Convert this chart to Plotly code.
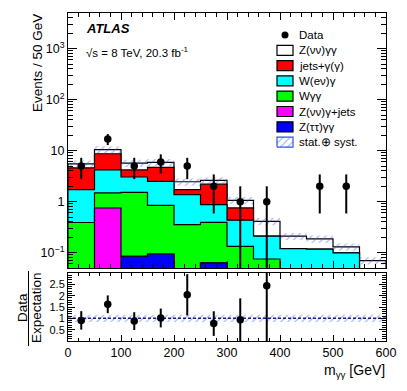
"""ATLAS-style stacked m_gg distribution with data/expectation ratio panel."""

import numpy as np
import plotly.graph_objects as go

# ---- data ----
edges = [0, 50, 100, 150, 200, 250, 300, 350, 400, 450, 500, 550, 600]

# stack components, bottom -> top
z_tautau_gg = [0, 0, 0.085, 0.094, 0, 0.063, 0, 0, 0, 0, 0, 0]
z_nunu_g_jets = [0, 0.75, 0, 0, 0, 0, 0, 0, 0, 0, 0, 0]
w_gg = [0.39, 0.73, 1.43, 0.75, 0.354, 0.33, 0.133, 0.075, 0, 0, 0, 0]
w_enu_g = [1.33, 2.72, 1.53, 1.66, 1.02, 0.48, 0.30, 0.135, 0.12, 0.117, 0.099, 0]
jets_g = [2.88, 4.5, 1.15, 2.2, 0.35, 1.33, 0.32, 0, 0, 0, 0, 0]
z_nunu_gg = [0.9, 1.8, 1.5, 1.2, 0.73, 0.4, 0.31, 0.2, 0.09, 0.069, 0.031, 0.07]

data = [5, 17, 5, 6, 5, 2, 1, 1, 0, 2, 2, 0]
unc_rel = [0.16, 0.16, 0.16, 0.16, 0.16, 0.16, 0.16, 0.16, 0.16, 0.16, 0.16, 0.16]

stack = [
    ("Z(ττ)γγ", z_tautau_gg, "#0000ff"),
    ("Z(νν)γ+jets", z_nunu_g_jets, "#ff00ff"),
    ("Wγγ", w_gg, "#00ff00"),
    ("W(eν)γ", w_enu_g, "#00ffff"),
    ("jets+γ(γ)", jets_g, "#ff0000"),
    ("Z(νν)γγ", z_nunu_gg, "#ffffff"),
]
legend_order = ["Z(νν)γγ", "jets+γ(γ)", "W(eν)γ", "Wγγ", "Z(νν)γ+jets", "Z(ττ)γγ"]

FONT = "Liberation Sans, Arial, Helvetica, sans-serif"
HATCH = "rgba(60,95,235,0.95)"

# ---- geometry (pixels) ----
W, H = 407, 391
L, R, T, B = 68, 386, 13, 341
MAIN_BOT, RATIO_TOP = 268, 273
YLO, YHI = np.log10(0.05), np.log10(5000)


def px(x):
    return (x - L) / (R - L)


def py(y):
    return (B - y) / (B - T)


def data_x(x):
    return (x - L) / (R - L) * 600


def data_y(y):
    return 10 ** (YLO + (MAIN_BOT - y) / (MAIN_BOT - T) * (YHI - YLO))


def steps(vals, base=1e-4):
    xs, ys = [edges[0]], [base]
    for i, v in enumerate(vals):
        v = v if v > 0 else base
        xs += [edges[i], edges[i + 1]]
        ys += [v, v]
    xs.append(edges[-1])
    ys.append(base)
    return xs, ys


def band(lo, hi):
    xs, ys = [], []
    for i in range(len(lo)):
        xs += [edges[i], edges[i + 1]]
        ys += [hi[i], hi[i]]
    for i in reversed(range(len(lo))):
        xs += [edges[i + 1], edges[i]]
        ys += [lo[i], lo[i]]
    return xs, ys


fig = go.Figure()

cum = np.cumsum([np.array(v, dtype=float) for _, v, _ in stack], axis=0)
total = cum[-1]
for (name, _, color), level in reversed(list(zip(stack, cum))):
    xs, ys = steps(level)
    fig.add_trace(go.Scatter(x=xs, y=ys, fill="toself", fillcolor=color, mode="lines",
                             line=dict(color="black", width=1.2), hoverinfo="skip",
                             xaxis="x", yaxis="y"))

u = np.array(unc_rel)
pattern = dict(shape="/", fgcolor=HATCH, bgcolor="rgba(0,0,0,0)", size=5, solidity=0.22)
xs, ys = band(total * (1 - u), total * (1 + u))
fig.add_trace(go.Scatter(x=xs, y=ys, fill="toself", fillcolor="rgba(0,0,0,0)", mode="lines",
                         line=dict(width=0), fillpattern=pattern, hoverinfo="skip",
                         xaxis="x", yaxis="y"))

centers = [(a + b) / 2 for a, b in zip(edges[:-1], edges[1:])]
n = np.array(data, dtype=float)
has = n > 0
cx = np.array(centers)[has]
err = np.sqrt(n[has])
ex, ey = [], []
for x, v, e in zip(cx, n[has], err):
    ex += [x, x, None]
    ey += [max(v - e, 1e-4), v + e, None]
fig.add_trace(go.Scatter(x=ex, y=ey, mode="lines", line=dict(color="black", width=2),
                         xaxis="x", yaxis="y", hoverinfo="skip"))
fig.add_trace(go.Scatter(x=cx, y=n[has], mode="markers", marker=dict(color="black", size=7.5),
                         xaxis="x", yaxis="y"))

# ---- ratio panel ----
xs, ys = band(1 - u, 1 + u)
fig.add_trace(go.Scatter(x=xs, y=ys, fill="toself", fillcolor="rgba(0,0,0,0)", mode="lines",
                         line=dict(width=0), fillpattern=pattern, hoverinfo="skip",
                         xaxis="x2", yaxis="y2"))
fig.add_trace(go.Scatter(x=[0, 600], y=[1, 1], mode="lines",
                         line=dict(color="#1a1a80", width=1.5, dash="3px,2px"),
                         xaxis="x2", yaxis="y2", hoverinfo="skip"))
ratio = n[has] / total[has]
rerr = err / total[has]
rx, ry = [], []
for x, v, e in zip(cx, ratio, rerr):
    rx += [x, x, None]
    ry += [v - e, v + e, None]
fig.add_trace(go.Scatter(x=rx, y=ry, mode="lines", line=dict(color="black", width=2),
                         xaxis="x2", yaxis="y2", hoverinfo="skip"))
fig.add_trace(go.Scatter(x=cx, y=ratio, mode="markers", marker=dict(color="black", size=7.5),
                         xaxis="x2", yaxis="y2"))

# ---- legend (hand-built) ----
rows = [35, 50.3, 65.6, 80.9, 96.2, 111.5, 126.8, 142.1]
bx0, bx1, tx = 277, 293, 297
colors = {name: color for name, _, color in stack}
annotations = []
shapes = []
fig.add_trace(go.Scatter(x=[data_x(285)], y=[data_y(rows[0])], mode="markers",
                         marker=dict(color="black", size=7), xaxis="x", yaxis="y"))
labels = ["Data"] + legend_order + ["stat.⊕ syst."]
for name, y in zip(legend_order, rows[1:7]):
    shapes.append(dict(type="rect", xref="paper", yref="paper", x0=px(bx0), x1=px(bx1),
                       y0=py(y + 5), y1=py(y - 5), fillcolor=colors[name],
                       line=dict(color="black", width=1.2)))
yb = rows[7]
hx = [data_x(bx0), data_x(bx1), data_x(bx1), data_x(bx0), data_x(bx0)]
hy = [data_y(yb + 5), data_y(yb + 5), data_y(yb - 5), data_y(yb - 5), data_y(yb + 5)]
fig.add_trace(go.Scatter(x=hx, y=hy, fill="toself", fillcolor="rgba(0,0,0,0)", mode="lines",
                         line=dict(color="#3050f0", width=1.2), fillpattern=pattern,
                         xaxis="x", yaxis="y", hoverinfo="skip"))
for text, y in zip(labels, rows):
    annotations.append(dict(text=text, xref="paper", yref="paper", x=px(tx), y=py(y),
                            xanchor="left", yanchor="middle", showarrow=False,
                            font=dict(size=11.5, color="black")))

annotations += [
    dict(text="<b><i>ATLAS</i></b>", x=px(84), y=py(28), font=dict(size=13)),
    dict(text="√s = 8 TeV, 20.3 fb<sup>-1</sup>", x=px(84), y=py(52), font=dict(size=11.5)),
]
for a in annotations[-2:]:
    a.update(xref="paper", yref="paper", xanchor="left", yanchor="middle", showarrow=False)

annotations += [
    dict(text="Events / 50 GeV", x=px(37), y=py(12), xanchor="center", yanchor="top",
         textangle=-90, font=dict(size=13.5)),
    dict(text="Data", x=px(22), y=py(308), xanchor="center", yanchor="middle",
         textangle=-90, font=dict(size=13.5)),
    dict(text="Expectation", x=px(36), y=py(308), xanchor="center", yanchor="middle",
         textangle=-90, font=dict(size=13.5)),
    dict(text="m<sub>γγ</sub> [GeV]", x=px(387), y=py(371), xanchor="right", yanchor="middle",
         font=dict(size=14)),
]
for a in annotations[-4:]:
    a.update(xref="paper", yref="paper", showarrow=False)
shapes.append(dict(type="line", xref="paper", yref="paper", x0=px(28.5), x1=px(28.5),
                   y0=py(271), y1=py(346), line=dict(color="black", width=1)))

axis_common = dict(showline=True, linecolor="black", linewidth=1, mirror="allticks",
                   ticks="inside", tickcolor="black", showgrid=False, zeroline=False,
                   tickfont=dict(size=12.5, color="black"))
major_log = [0.1, 1, 10, 100, 1000]
minor_log = [m * 10.0 ** e for e in range(-2, 4) for m in range(2, 10)]

fig.update_layout(
    width=W, height=H,
    margin=dict(l=L, r=W - R, t=T, b=H - B),
    paper_bgcolor="white", plot_bgcolor="white",
    showlegend=False,
    font=dict(family=FONT, color="black"),
    xaxis=dict(domain=[0, 1], range=[0, 600], anchor="y", showticklabels=False,
               dtick=100, ticklen=7, minor=dict(dtick=20, ticklen=4, ticks="inside"),
               **axis_common),
    yaxis=dict(domain=[py(MAIN_BOT), 1], type="log", range=[YLO, YHI], anchor="x",
               tickvals=major_log,
               ticktext=["10<sup>−1</sup>", "1", "10", "10<sup>2</sup>", "10<sup>3</sup>"],
               ticklen=9, minor=dict(tickvals=minor_log, ticklen=5, ticks="inside"),
               **axis_common),
    xaxis2=dict(domain=[0, 1], range=[0, 600], anchor="y2", dtick=100, ticklen=6,
                minor=dict(dtick=20, ticklen=3, ticks="inside"), **axis_common),
    yaxis2=dict(domain=[0, py(RATIO_TOP)], range=[0, 3], anchor="x2",
                tickvals=[0.5, 1, 1.5, 2, 2.5], ticktext=["0.5", "1", "1.5", "2", "2.5"],
                ticklen=7, minor=dict(dtick=0.1, ticklen=4, ticks="inside"), **axis_common),
    annotations=annotations,
    shapes=shapes,
)
fig.update_yaxes(tickfont=dict(size=11), selector=dict(anchor="x2"))

fig.write_html("out.html", config={"displayModeBar": False},
               post_script="document.body.style.margin='0';")
